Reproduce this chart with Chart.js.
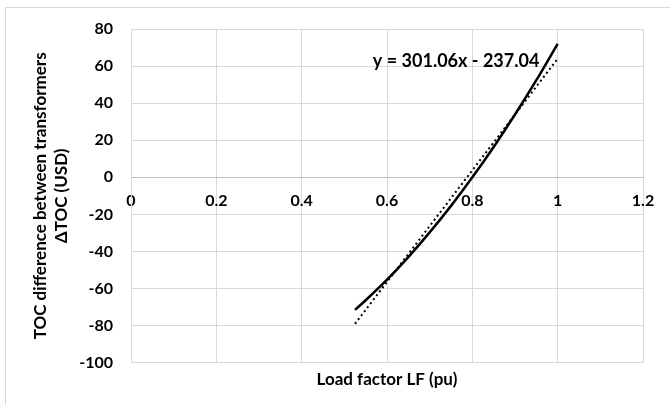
<!DOCTYPE html>
<html>
<head>
<meta charset="utf-8">
<script src="https://cdn.jsdelivr.net/npm/chart.js@4.4.1/dist/chart.umd.min.js"></script>
<style>
body { margin: 0; background: #fff; }
#wrap { position: relative; width: 670px; height: 405px; overflow: hidden; }
#frame { position: absolute; left: 5px; top: 7px; width: 700px; height: 500px; border: 1px solid #d9d9d9; pointer-events: none; }
</style>
</head>
<body>
<div id="wrap">
  <canvas id="chart" width="670" height="405"></canvas>
  <div id="frame"></div>
</div>
<script>
// values
var loadFactor = [0.525, 0.55, 0.6, 0.65, 0.7, 0.75, 0.8, 0.85, 0.9, 0.95, 1.0];
var deltaToc = [-71.5, -66.3, -55.2, -43.0, -29.7, -15.4, 0.0, 16.4, 33.9, 52.4, 72.0];

// linear trendline end points
var trendX = [0.525, 1.0];
var trendY = [-79.0, 64.0];
var trendLabel = 'y = 301.06x - 237.04';
var trendLabelAt = [0.762, 62.5];

var xRange = [0, 1.2];
var yRange = [-100, 80];
var xStep = 0.2;
var yStep = 20;

var xTitle = 'Load factor LF (pu)';
var yTitle = ['TOC difference between transformers', 'ΔTOC (USD)'];

function toPoints(xs, ys) {
    var pts = [];
    for (var i = 0; i < xs.length; i++) {
        pts.push({x: xs[i], y: ys[i]});
    }
    return pts;
}

Chart.defaults.font.family = 'Lato';
Chart.defaults.color = '#000';

// writes the trendline equation next to the line
var trendLabelPlugin = {
    id: 'trendLabel',
    afterDatasetsDraw: function (chart) {
        var c = chart.ctx;
        var x = chart.scales.x.getPixelForValue(trendLabelAt[0]);
        var y = chart.scales.y.getPixelForValue(trendLabelAt[1]);
        c.save();
        c.font = 'bold 18px Lato';
        c.fillStyle = '#000';
        c.textAlign = 'center';
        c.textBaseline = 'middle';
        c.fillText(trendLabel, x, y);
        c.restore();
    }
};

var tickFont = {size: 16, weight: 'bold'};
var titleFont = {size: 17, weight: 'bold', lineHeight: 1.25};

new Chart(document.getElementById('chart'), {
    type: 'scatter',
    data: {
        datasets: [{
            label: 'ΔTOC',
            data: toPoints(loadFactor, deltaToc),
            showLine: true,
            borderColor: '#000',
            borderWidth: 2.5,
            pointRadius: 0,
            tension: 0.4,
            cubicInterpolationMode: 'monotone'
        }, {
            label: 'Linear',
            data: toPoints(trendX, trendY),
            showLine: true,
            borderColor: '#000',
            borderWidth: 2,
            borderDash: [2, 3],
            pointRadius: 0
        }]
    },
    options: {
        responsive: false,
        animation: false,
        layout: {padding: {left: 30, top: 29, right: 27, bottom: 11}},
        plugins: {
            legend: {display: false},
            tooltip: {enabled: false}
        },
        scales: {
            x: {
                type: 'linear',
                position: {y: 0},
                min: xRange[0],
                max: xRange[1],
                ticks: {
                    stepSize: xStep,
                    padding: 14,
                    font: tickFont,
                    callback: function (v) { return String(+v.toFixed(1)); }
                },
                grid: {color: '#d9d9d9', drawTicks: false},
                border: {color: '#bfbfbf'}
            },
            // only carries the bottom title
            xTitle: {
                type: 'linear',
                position: 'bottom',
                min: xRange[0],
                max: xRange[1],
                ticks: {display: false},
                grid: {display: false, drawTicks: false},
                border: {display: false},
                title: {
                    display: true,
                    text: xTitle,
                    font: titleFont,
                    padding: {top: 6, bottom: 4}
                }
            },
            y: {
                type: 'linear',
                min: yRange[0],
                max: yRange[1],
                ticks: {stepSize: yStep, padding: 18, font: tickFont},
                grid: {color: '#d9d9d9', drawTicks: false},
                border: {color: '#d9d9d9'},
                title: {
                    display: true,
                    text: yTitle,
                    font: titleFont,
                    padding: 0
                },
                afterFit: function (scale) { scale.width = 101; }
            }
        }
    },
    plugins: [trendLabelPlugin]
});
</script>
</body>
</html>
